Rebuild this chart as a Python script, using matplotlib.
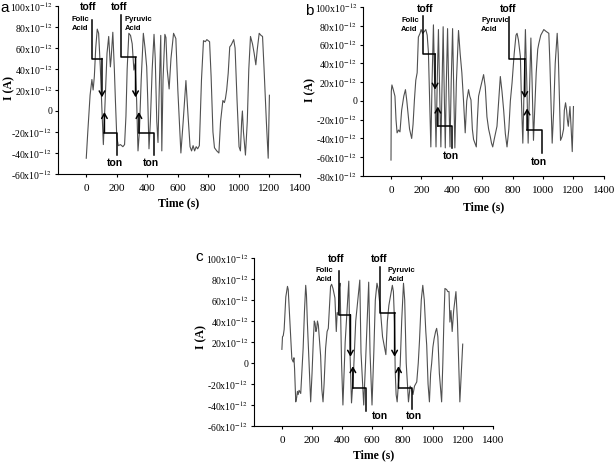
import matplotlib
matplotlib.use('Agg')
import matplotlib.pyplot as plt

plt.rcParams['font.family'] = ['Liberation Serif', 'DejaVu Serif']
plt.rcParams['mathtext.fontset'] = 'stix'

# ---- panel a : time (s), current (x10^-12 A) ----
a_t = [0, 10, 25, 37, 45, 53, 62, 72, 81, 92, 103, 112, 121, 136, 147, 158, 163, 174, 184, 191,
       200, 210, 224, 240, 251, 260, 268, 279, 290, 301, 312, 320, 330, 339, 348, 360, 374, 385, 396, 403,
       411, 420, 432, 444, 452, 462, 470, 478, 488, 495, 503, 515, 522, 530, 543, 555, 572, 587, 600, 620,
       635, 653, 665, 680, 690, 700, 710, 720, 730, 741, 755, 768, 780, 790, 808, 818, 830, 840, 855, 869,
       880, 895, 905, 912, 920, 930, 940, 950, 966, 975, 988, 1001, 1010, 1018, 1023, 1030, 1043, 1055, 1065, 1076,
       1089, 1100, 1111, 1120, 1133, 1145, 1155, 1165, 1180, 1192, 1200]
a_i = [-45, -20, 15, 30, 20, 33, 60, 78, 74, 42, 0, -32, 0, 55, 71, 42, 50, 75, 40, 10,
       -25, -33, -32, -34, -32, -5, 40, 74, 72, 64, 39, 45, 10, -38, -20, 30, 74, 60, 42, 10,
       -36, -10, 40, 73, 50, -10, -30, 20, 72, -38, 30, 73, 70, 40, 21, 50, 74, 69, 20, -40,
       -10, 29, 0, -34, -38, -33, -38, -34, -36, -33, 30, 67, 66, 68, 66, 33, -20, -35, -38, -40,
       -10, 10, 8, 12, 20, 36, 61, 63, 68, 60, 10, -34, -38, -10, 0, -20, -42, -10, 40, 71,
       64, 55, 44, 58, 74, 72, 71, 40, -10, -45, 15]

# ---- panel b ----
b_t = [0, 2, 6, 15, 26, 33, 40, 50, 59, 70, 84, 95, 104, 110, 122, 136, 145, 154, 163, 172,
       180, 191, 198, 208, 220, 229, 238, 246, 254, 262, 270, 279, 288, 296, 304, 312, 320, 328, 336, 343,
       350, 357, 364, 372, 380, 388, 396, 405, 413, 420, 430, 444, 455, 466, 477, 488, 498, 510, 518, 526,
       535, 543, 552, 561, 568, 576, 590, 609, 620, 631, 642, 653, 661, 669, 680, 697, 708, 719, 730, 741,
       752, 763, 775, 785, 796, 810, 822, 829, 838, 851, 858, 867, 876, 884, 893, 902, 911, 920, 928, 937,
       945, 955, 965, 972, 985, 1005, 1020, 1038, 1045, 1052, 1060, 1070, 1080, 1093, 1100, 1108, 1115, 1125, 1135, 1140,
       1148, 1155, 1160, 1166, 1172, 1177, 1185, 1192, 1198, 1200]
b_i = [-63, 10, 17, 12, 5, -20, -34, -31, -33, -10, 5, 12, 0, -10, -30, -40, -25, 1, 22, 30,
       68, 72, 76, 72, 74, 76, 70, 52, 0, -49, 20, 81, 10, -49, 20, 76, 10, -49, 20, 79,
       10, -50, 20, 77, 10, -49, 20, 77, 10, -50, 20, 75, 50, 30, 0, -34, 0, 12, 5, 1,
       -30, -41, -45, -49, -20, 5, 15, 28, 15, -17, -30, -38, -45, -49, -40, -27, 0, 26, 10, -10,
       -35, -49, -30, 0, 19, 50, 70, 72, 65, 47, 0, -45, 20, 76, 20, -45, 10, 67, 20, -42,
       -10, 30, 55, 61, 70, 76, 74, 72, 40, 0, -45, -10, 40, 72, 50, 0, -42, -38, -30, -10,
       -2, -10, -20, -27, -15, -6, -30, -54, -20, -6]

# ---- panel c ----
c_t = [0, 4, 9, 15, 26, 37, 42, 53, 66, 75, 80, 84, 92, 98, 103, 108, 114, 125, 132, 141,
       150, 158, 163, 169, 180, 191, 200, 209, 215, 220, 226, 231, 236, 242, 250, 257, 265, 273, 280, 290,
       300, 308, 316, 323, 330, 339, 352, 361, 367, 374, 380, 386, 396, 405, 420, 444, 452, 462, 475, 490,
       517, 525, 543, 555, 576, 585, 598, 610, 620, 631, 640, 653, 668, 690, 700, 710, 722, 733, 740, 747,
       752, 758, 765, 773, 785, 795, 807, 815, 825, 840, 851, 862, 870, 880, 895, 905, 913, 925, 935, 945,
       955, 961, 970, 979, 987, 994, 1002, 1010, 1020, 1027, 1035, 1045, 1060, 1068, 1075, 1082, 1093, 1101, 1109, 1115,
       1122, 1130, 1140, 1155, 1165, 1175, 1181, 1190, 1200]
c_i = [13, 25, 26, 32, 63, 73, 70, 39, 4, 1, 5, -5, -37, -33, -27, -30, -26, -29, -10, 14,
       50, 74, 65, 39, 0, -37, -10, 23, 40, 38, 30, 33, 40, 36, 20, 7, -25, -37, -20, 14,
       30, 33, 55, 73, 75, 71, 62, 30, 48, 46, 70, 76, 0, -40, 20, 78, 10, -38, -10, 40,
       79, 10, -40, 0, 77, 10, -40, 10, 60, 76, 70, 52, 25, 8, 40, 55, 65, 74, 68, 40,
       -8, -30, -37, -20, -2, 40, 76, 60, 0, -37, -22, -25, -30, -22, -18, 0, 21, 60, 74, 60,
       30, 17, -20, -37, -10, 0, 15, 23, 30, 33, 25, -10, -37, 0, 40, 71, 70, 68, 68, 39,
       50, 30, 50, 68, 40, -10, -37, -10, 18]

# toff / ton step markers (time, current) - last point is the arrow tip
a_toff = [([37, 37, 103, 103], [87, 50, 50, 13]), ([229, 229, 323, 323], [91, 51, 51, 13])]
a_ton = [([202, 202, 119, 119], [-42, -20.6, -20.6, -1]), ([444, 444, 345, 345], [-42, -20.6, -20.6, -1])]
b_toff = [([213, 213, 290, 290], [90, 50, 50, 12]), ([779, 779, 880, 880], [89, 45, 45, 3])]
b_ton = [([400, 400, 308, 308], [-50, -27, -27, -6]), ([994, 994, 895, 895], [-55, -31, -31, -8])]
c_toff = [([378, 378, 455, 455], [88, 46, 46, 6]), ([653, 653, 748, 748], [91, 48, 48, 6])]
c_ton = [([561, 561, 471, 471], [-46, -24, -24, -3]), ([863, 863, 774, 774], [-44, -24, -24, -3])]

# text labels: (toff x, toff y), (acid x, acid y), (ton x, ton y)
a_txt = [((15, 99), (-95, 82.5), (191, -50)), ((218, 99), (251, 82.5), (427, -50))]
b_txt = [((224, 98), (66, 81), (396, -59)), ((770, 98), (592, 81), (972, -65))]
c_txt = [((360, 99), (224, 83.5), (648, -50)), ((642, 99), (702, 83.5), (878, -50))]
acids = ['Folic\nAcid', 'Pyruvic\nAcid']


def draw_panel(ax, t, cur, ymin, toffs, tons, txts):
    ax.plot(t, cur, color='#505050', lw=0.8)
    for xs, ys in toffs + tons:
        ax.plot(xs[:-1], ys[:-1], color='black', lw=1.1)
        ax.annotate('', xy=(xs[-1], ys[-1]), xytext=(xs[-2], ys[-2]),
                    arrowprops=dict(arrowstyle='->,head_length=0.35,head_width=0.2', lw=1.1, color='black',
                                    shrinkA=0, shrinkB=0))
    for (tf, ac, tn), name in zip(txts, acids):
        ax.text(tf[0], tf[1], 'toff', ha='center', va='center', fontsize=7.5, fontweight='bold',
                family=['Liberation Sans'])
        ax.text(ac[0], ac[1], name, ha='left', va='center', fontsize=5.5, fontweight='bold',
                family=['Liberation Sans'], linespacing=1.4)
        ax.text(tn[0], tn[1], 'ton', ha='center', va='center', fontsize=7.5, fontweight='bold',
                family=['Liberation Sans'])
    ax.set_xlim(-185, 1400)
    ax.set_ylim(ymin, 100)
    ax.set_xticks(range(0, 1401, 200))
    yt = list(range(ymin, 101, 20))
    ax.set_yticks(yt)
    ax.set_yticklabels(['0' if v == 0 else r'%dx10$^{-12}$' % v for v in yt])
    ax.tick_params(length=2.5, width=0.8)
    ax.tick_params(axis='y', labelsize=7, pad=1.5)
    ax.tick_params(axis='x', labelsize=8, pad=5)
    for s in ['top', 'right']:
        ax.spines[s].set_visible(False)
    ax.set_xlabel('Time (s)', fontsize=8.5, fontweight='bold', va='center')
    ax.set_ylabel('I (A)', fontsize=8.5, fontweight='bold', va='center')


fig = plt.figure(figsize=(6.14, 4.62), dpi=100)
ax_a = fig.add_axes([0.0945, 0.6234, 0.394, 0.3636])
ax_b = fig.add_axes([0.591, 0.619, 0.3925, 0.3658])
ax_c = fig.add_axes([0.4137, 0.0779, 0.389, 0.3636])

draw_panel(ax_a, a_t, a_i, -60, a_toff, a_ton, a_txt)
draw_panel(ax_b, b_t, b_i, -80, b_toff, b_ton, b_txt)
draw_panel(ax_c, c_t, c_i, -60, c_toff, c_ton, c_txt)

ax_a.xaxis.set_label_coords(0.5, -0.173)
ax_a.yaxis.set_label_coords(-0.2, 0.51)
ax_b.xaxis.set_label_coords(0.5, -0.183)
ax_b.yaxis.set_label_coords(-0.22, 0.51)
ax_c.xaxis.set_label_coords(0.5, -0.173)
ax_c.yaxis.set_label_coords(-0.219, 0.53)

fig.text(0.008, 0.983, 'a', fontsize=11, family=['Liberation Sans'], ha='center', va='center')
fig.text(0.503, 0.976, 'b', fontsize=11, family=['Liberation Sans'], ha='center', va='center')
fig.text(0.324, 0.444, 'c', fontsize=11, family=['Liberation Sans'], ha='center', va='center')

fig.savefig('out.png', dpi=100)
